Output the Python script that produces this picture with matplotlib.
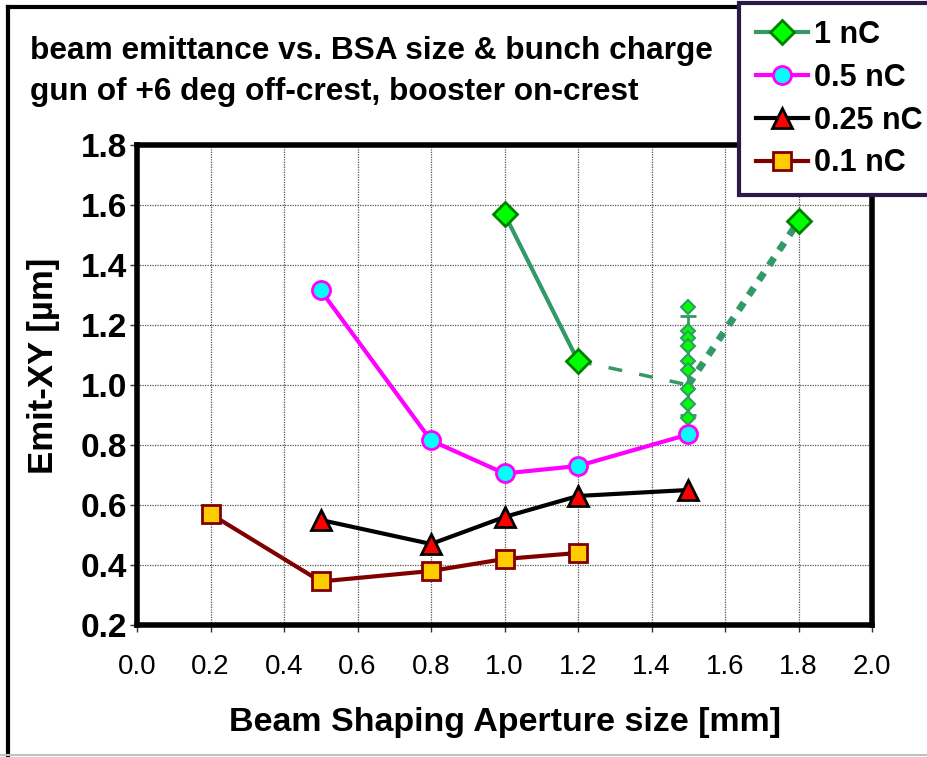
import matplotlib
matplotlib.use("Agg")
import matplotlib.pyplot as plt
from matplotlib.lines import Line2D

plt.rcParams['font.family'] = ['Liberation Sans', 'DejaVu Sans']

# BSA size [mm] and emittance [um] per bunch charge
bsa_1nc = [1.0, 1.2]
emit_1nc = [1.57, 1.08]
bsa_05nc = [0.5, 0.8, 1.0, 1.2, 1.5]
emit_05nc = [1.315, 0.815, 0.705, 0.73, 0.835]
bsa_025nc = [0.5, 0.8, 1.0, 1.2, 1.5]
emit_025nc = [0.55, 0.47, 0.56, 0.63, 0.65]
bsa_01nc = [0.2, 0.5, 0.8, 1.0, 1.2]
emit_01nc = [0.57, 0.345, 0.38, 0.42, 0.44]

# 1 nC, repeated measurements at 1.5 mm
scan_x = 1.5
scan_emit = [1.26, 1.18, 1.155, 1.13, 1.08, 1.05, 0.985, 0.935, 0.89]
scan_mean = 1.065
scan_err = 0.165
# 1 nC at 1.8 mm
bsa_1nc_far = [1.8]
emit_1nc_far = [1.545]
# dashed guide lines for 1 nC
guide1_x = [1.2, 1.5]
guide1_y = [1.08, 1.0]
guide2_x = [1.5, 1.8]
guide2_y = [1.0, 1.545]

xticks = [0.0, 0.2, 0.4, 0.6, 0.8, 1.0, 1.2, 1.4, 1.6, 1.8, 2.0]
yticks = [0.2, 0.4, 0.6, 0.8, 1.0, 1.2, 1.4, 1.6, 1.8]

fig = plt.figure(figsize=(9.27, 7.57), dpi=100)
ax = fig.add_axes([0.1478, 0.1744, 0.7929, 0.6341])

green = '#339966'
ax.plot(guide1_x, guide1_y, color=green, lw=2.5, ls=(0, (4, 5)), zorder=3)
ax.plot(guide2_x, guide2_y, color=green, lw=5, ls=(0, (1.3, 1.3)), zorder=3)
ax.errorbar([scan_x], [scan_mean], yerr=[scan_err], color=green, lw=2, capsize=6, capthick=2, zorder=3)
ax.plot([scan_x] * len(scan_emit), scan_emit, ls='none', marker='D', ms=7,
        mfc='#00ff00', mec=green, mew=1.5, zorder=4)
ax.plot(bsa_1nc_far, emit_1nc_far, ls='none', marker='D', ms=12, mfc='#00ff00',
        mec='#008000', mew=2, zorder=5)

ax.plot(bsa_1nc, emit_1nc, color=green, lw=3, marker='D', ms=12, mfc='#00ff00',
        mec='#008000', mew=2, label='1 nC', zorder=5)
ax.plot(bsa_05nc, emit_05nc, color='#ff00ff', lw=3, marker='o', ms=13, mfc='#00ffff',
        mec='#ff00ff', mew=2, label='0.5 nC', zorder=5)
ax.plot(bsa_025nc, emit_025nc, color='black', lw=3, marker='^', ms=14, mfc='#ff0000',
        mec='black', mew=2, label='0.25 nC', zorder=5)
ax.plot(bsa_01nc, emit_01nc, color='#800000', lw=3, marker='s', ms=13, mfc='#ffcc00',
        mec='#800000', mew=2, label='0.1 nC', zorder=5)

ax.set_xlim(0, 2.0)
ax.set_ylim(0.2, 1.8)
ax.set_xticks(xticks)
ax.set_yticks(yticks)
ax.set_xticklabels(['%.1f' % v for v in xticks], fontsize=20)
ax.set_yticklabels(['%.1f' % v for v in yticks], fontsize=24, fontweight='bold')
ax.tick_params(direction='out', length=5, width=1, color='#333333', pad=2)
ax.tick_params(axis='x', pad=16)
ax.grid(True, color='#555555', ls=(0, (1, 1)), lw=0.9)
for s in ax.spines.values():
    s.set_linewidth(4)

ax.set_xlabel('Beam Shaping Aperture size [mm]', fontsize=24.5, fontweight='bold', labelpad=19)
ax.set_ylabel('Emit-XY [µm]', fontsize=25, fontweight='bold')
ax.yaxis.set_label_coords(-0.105, 0.54)

fig.text(0.032, 0.932, 'beam emittance vs. BSA size & bunch charge', fontsize=22.8,
         fontweight='bold', va='center')
fig.text(0.032, 0.879, 'gun of +6 deg off-crest, booster on-crest', fontsize=22.8,
         fontweight='bold', va='center')

# outer frame: black left/top, grey bottom
fig.add_artist(Line2D([0.009, 0.009], [0.003, 0.991], transform=fig.transFigure, color='black', lw=3))
fig.add_artist(Line2D([0.009, 1.0], [0.991, 0.991], transform=fig.transFigure, color='black', lw=3))
fig.add_artist(Line2D([0.0, 1.0], [0.003, 0.003], transform=fig.transFigure, color='#c0c0c0', lw=1.5))

leg = fig.legend(loc='upper left', bbox_to_anchor=(0.797, 0.996), borderaxespad=0,
                 prop={'weight': 'bold', 'size': 22}, frameon=True, fancybox=False,
                 framealpha=1, handlelength=1.7, handletextpad=0.2, labelspacing=0.42,
                 borderpad=0.55)
leg.get_frame().set_edgecolor('#2a1a4a')
leg.get_frame().set_linewidth(3)
leg.set_zorder(10)

fig.savefig('out.png', dpi=100)
